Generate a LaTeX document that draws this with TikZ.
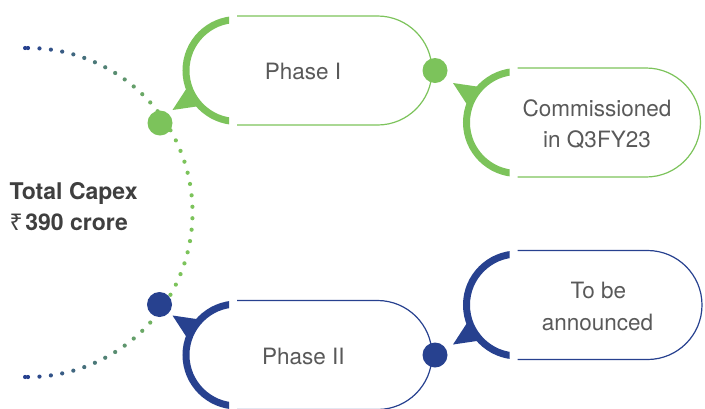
\documentclass[tikz,border=0pt]{standalone}
\usepackage{fontspec}
\setmainfont{TeX Gyre Heros}
\newfontfamily\rupeefont{Noto Sans}
\definecolor{cgreen}{HTML}{7CC35B}
\definecolor{cblue}{HTML}{27418F}
\definecolor{txtgray}{HTML}{595959}
\definecolor{boldgray}{HTML}{3F3F3F}
% #1 cx, #2 cy, #3 length to right centre, #4 colour, #5 pointer side (1 lower, -1 upper)
\newcommand\capsule[5]{%
  \begin{scope}
    \clip ({#1-70},{#2-70}) rectangle ({#1-8},{#2+70});
    \draw[#4, line width=7pt] (#1,#2) circle[radius=51];
  \end{scope}
  \draw[#4, thinline] (#1,{#2-54.5}) -- ({#1+#3},{#2-54.5})
     arc[start angle=-90, end angle=90, radius=54.5] -- (#1,{#2+54.5});
  \fill[#4] ({#1-64.5},{#2+(#5)*39.5}) -- ({#1-49},{#2+(#5)*15.7})
     -- ({#1-35.2},{#2+(#5)*35.2}) -- cycle;
}
\tikzset{
  thinline/.style={line width=1.2pt},
  lbl/.style={font=\fontsize{22.5}{27}\selectfont, text=txtgray, inner sep=0pt, anchor=base},
  boldlbl/.style={font=\fontsize{23}{28}\selectfont\bfseries, text=boldgray, inner sep=0pt, anchor=base west},
  bigdot/.style={radius=12.5}
}
\begin{document}
\begin{tikzpicture}[x=1pt,y=-1pt]
\useasboundingbox (0,0) rectangle (705,408);
% dotted arc
\foreach \a in {91,90,86,...,-90,-91}{
  \pgfmathtruncatemacro\t{min(100,max(0,(90-abs(\a))/55*100))}
  \fill[cgreen!\t!cblue] ({28+164.5*cos(\a)},{212.5-164.5*sin(\a)}) circle[radius=2.1];
}
% capsules
\capsule{237}{70.5}{140.5}{cgreen}{1}
\capsule{517.5}{122.5}{128.5}{cgreen}{-1}
\capsule{237}{355}{140.5}{cblue}{-1}
\capsule{517.5}{305}{130}{cblue}{1}
% big dots
\fill[cgreen] (160,123) circle[bigdot];
\fill[cgreen] (435,70.5) circle[bigdot];
\fill[cblue] (159.5,304.5) circle[bigdot];
\fill[cblue] (435,355) circle[bigdot];
% texts
\node[lbl] (p1) at (303,79.3) {Phase I};
\node[lbl] (p2) at (303.3,364) {Phase II};
\node[lbl] (c1) at (597,116) {Commissioned};
\node[lbl] (c2) at (597,147.3) {in Q3FY23};
\node[lbl] (t1) at (598.3,298.3) {To be};
\node[lbl] (t2) at (597.5,330) {announced};
\node[boldlbl] (tc) at (9.3,199.3) {Total Capex};
\node[boldlbl] (rs) at (9.3,230.7) {{\rupeefont ₹}\hspace{0.12em}390 crore};
\end{tikzpicture}
\end{document}
